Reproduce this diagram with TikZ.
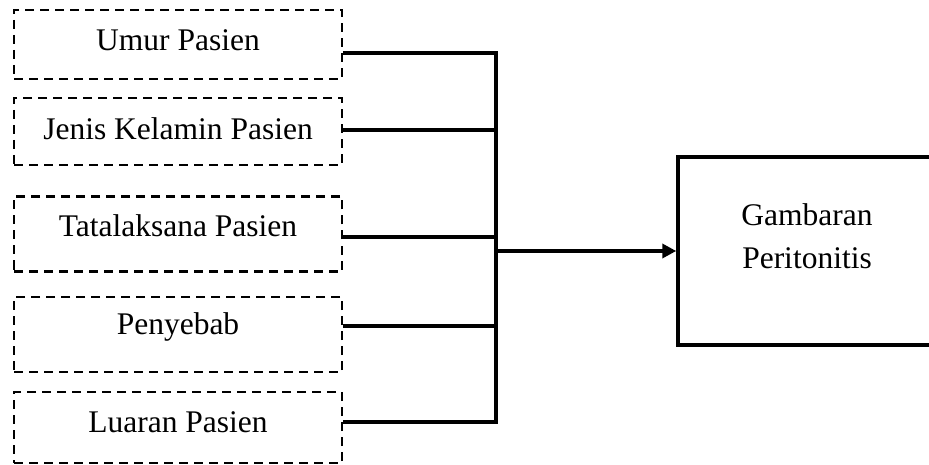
\documentclass[tikz,border=0pt]{standalone}
\usepackage{fontspec}
\setmainfont{Liberation Serif}
\usetikzlibrary{arrows.meta}
\begin{document}
\begin{tikzpicture}[x=1pt,y=-1pt,
  inbox/.style={draw, line width=2.6pt, dash pattern=on 9pt off 6pt, minimum width=328pt, inner sep=0pt},
  lbltext/.style={font=\fontsize{31.5}{43}\selectfont, align=center, inner sep=0pt},
  outbox/.style={draw, line width=3.5pt, minimum width=258pt, minimum height=188pt, inner sep=0pt},
  conn/.style={line width=3.5pt}]
\useasboundingbox (0,0) rectangle (929,465);
\node[inbox, minimum height=69pt] (b1) at (178,44.5) {};
\node[inbox, minimum height=67pt] (b2) at (178,131.5) {};
\node[inbox, minimum height=75pt] (b3) at (178,234) {};
\node[inbox, minimum height=75pt] (b4) at (178,334.5) {};
\node[inbox, minimum height=71pt] (b5) at (178,427.5) {};
\node[lbltext] (t1) at (178,40) {Umur Pasien};
\node[lbltext] (t2) at (178,129) {Jenis Kelamin Pasien};
\node[lbltext] (t3) at (178,226) {Tatalaksana Pasien};
\node[lbltext] (t4) at (178,327) {Penyebab};
\node[lbltext] (t5) at (178,422) {Luaran Pasien};
\node[outbox] (out) at (807,251) {};
\node[lbltext] (lbl) at (807,236) {Gambaran\\Peritonitis};
\coordinate (t) at (496,53);
\coordinate (bt) at (496,422);
\coordinate (j) at (494,251);
\draw[conn] (b1.east |- t) -- (t) -- (bt) -- (b5.east |- bt);
\draw[conn] (b2.east |- 0,130) -- (496,130);
\draw[conn] (b3.east |- 0,237) -- (496,237);
\draw[conn] (b4.east |- 0,326) -- (496,326);
\draw[conn, -{Triangle[length=14pt,width=14pt]}] (j) -- (out.west);
\end{tikzpicture}
\end{document}
